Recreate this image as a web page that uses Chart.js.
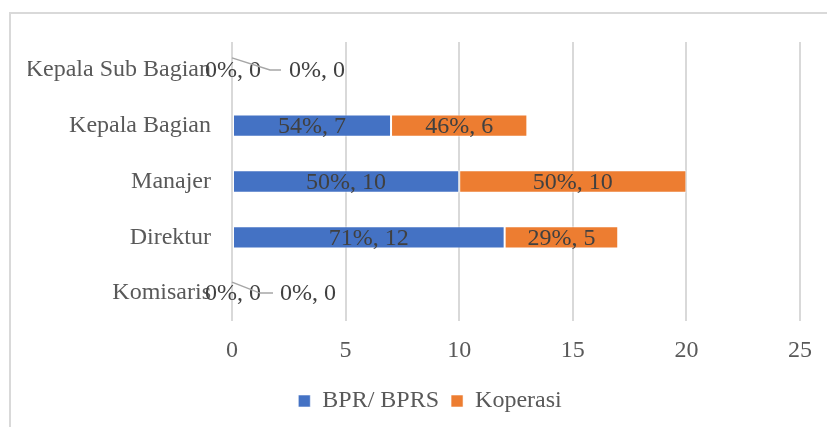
<!DOCTYPE html>
<html>
<head>
<meta charset="utf-8">
<script src="https://cdn.jsdelivr.net/npm/chart.js@4.4.1/dist/chart.umd.min.js"></script>
<style>
  html, body { margin: 0; padding: 0; background: #ffffff; }
  #wrap { position: relative; width: 827px; height: 427px; overflow: hidden; }
  #frame { position: absolute; left: 9px; top: 12px; width: 900px; height: 500px;
           border-left: 2px solid #d9d9d9; border-top: 2px solid #d9d9d9; box-sizing: border-box; }
  canvas { position: absolute; left: 0; top: 0; }
</style>
</head>
<body>
<div id="wrap">
  <div id="frame"></div>
  <canvas id="chart" width="827" height="427"></canvas>
</div>
<script>
// Jabatan (rows, top to bottom)
const categories = ['Kepala Sub Bagian', 'Kepala Bagian', 'Manajer', 'Direktur', 'Komisaris'];
// Jumlah per lembaga
const bprValues = [0, 7, 10, 12, 0];
const koperasiValues = [0, 6, 10, 5, 0];
const seriesNames = ['BPR/ BPRS', 'Koperasi'];
// Sumbu X
const xTicks = [0, 5, 10, 15, 20, 25];

const FONT = "'Liberation Serif', 'Times New Roman', serif";
const FONT_SIZE = 24;
const LABEL_COLOR = '#404040';
const AXIS_COLOR = '#595959';

// Per-row leader line geometry for rows where both series are zero
const zeroLeader = {
  0: { dy: -12, elbow: 38, end: 49, label: 85 },
  4: { dy: -11, elbow: 28, end: 41, label: 76 }
};

const rowTotal = i => bprValues[i] + koperasiValues[i];
const labelText = (v, i) => {
  const t = rowTotal(i);
  const pct = t ? Math.round(v / t * 100) : 0;
  return pct + '%, ' + v;
};

const valueLabels = {
  id: 'valueLabels',
  afterDatasetsDraw(chart) {
    const ctx = chart.ctx;
    const xs = chart.scales.x;
    ctx.save();
    ctx.font = FONT_SIZE + 'px ' + FONT;
    ctx.fillStyle = LABEL_COLOR;
    ctx.textAlign = 'center';
    ctx.textBaseline = 'middle';
    chart.data.datasets.forEach((ds, di) => {
      const meta = chart.getDatasetMeta(di);
      meta.data.forEach((bar, i) => {
        const v = ds.data[i];
        const txt = labelText(v, i);
        if (v > 0) {
          const cx = (bar.base + bar.x) / 2;
          ctx.fillText(txt, cx, bar.y + 1);
        } else if (rowTotal(i) === 0) {
          const x0 = xs.getPixelForValue(0);
          const g = zeroLeader[i] || { dy: -11, elbow: 32, end: 45, label: 80 };
          if (di === 0) {
            ctx.fillText(txt, x0 + 1, bar.y + 1);
          } else {
            ctx.save();
            ctx.strokeStyle = '#a6a6a6';
            ctx.lineWidth = 1.5;
            ctx.beginPath();
            ctx.moveTo(x0, bar.y + g.dy);
            ctx.lineTo(x0 + g.elbow, bar.y);
            ctx.lineTo(x0 + g.end, bar.y);
            ctx.stroke();
            ctx.restore();
            ctx.fillText(txt, x0 + g.label, bar.y + 1);
          }
        }
      });
    });
    ctx.restore();
  }
};

// Centre the legend under the middle of the frame rather than the canvas
const legendShift = {
  id: 'legendShift',
  afterLayout(chart) {
    const lg = chart.legend;
    if (lg) { lg.left += 16; lg.right += 16; }
  }
};

new Chart(document.getElementById('chart'), {
  type: 'bar',
  data: {
    labels: categories,
    datasets: [
      { label: seriesNames[0], data: bprValues, backgroundColor: '#4472c4',
        borderColor: 'rgba(255,255,255,0.55)', borderWidth: 1, borderSkipped: false },
      { label: seriesNames[1], data: koperasiValues, backgroundColor: '#ed7d31',
        borderColor: 'rgba(255,255,255,0.55)', borderWidth: 1, borderSkipped: false }
    ]
  },
  options: {
    indexAxis: 'y',
    responsive: false,
    animation: false,
    devicePixelRatio: 1,
    datasets: { bar: { barPercentage: 0.4, categoryPercentage: 1.0 } },
    layout: { padding: { left: 28, right: 27, top: 42, bottom: 4 } },
    plugins: {
      tooltip: { enabled: false },
      legend: {
        position: 'bottom',
        labels: {
          boxWidth: 12, boxHeight: 12, padding: 12,
          color: AXIS_COLOR,
          font: { family: FONT, size: FONT_SIZE }
        }
      }
    },
    scales: {
      x: {
        stacked: true,
        min: xTicks[0],
        max: xTicks[xTicks.length - 1],
        afterBuildTicks(scale) { scale.ticks = xTicks.map(v => ({ value: v })); },
        afterFit(scale) { scale.height = 56; },
        grid: { color: '#d9d9d9', lineWidth: 2, drawTicks: false },
        border: { display: false },
        ticks: { color: AXIS_COLOR, padding: 15, font: { family: FONT, size: FONT_SIZE } }
      },
      y: {
        stacked: true,
        afterFit(scale) { scale.width = 204; },
        grid: { display: false, drawTicks: false },
        border: { display: false },
        ticks: { color: AXIS_COLOR, padding: 21, font: { family: FONT, size: FONT_SIZE } }
      }
    }
  },
  plugins: [valueLabels, legendShift]
});
</script>
</body>
</html>
